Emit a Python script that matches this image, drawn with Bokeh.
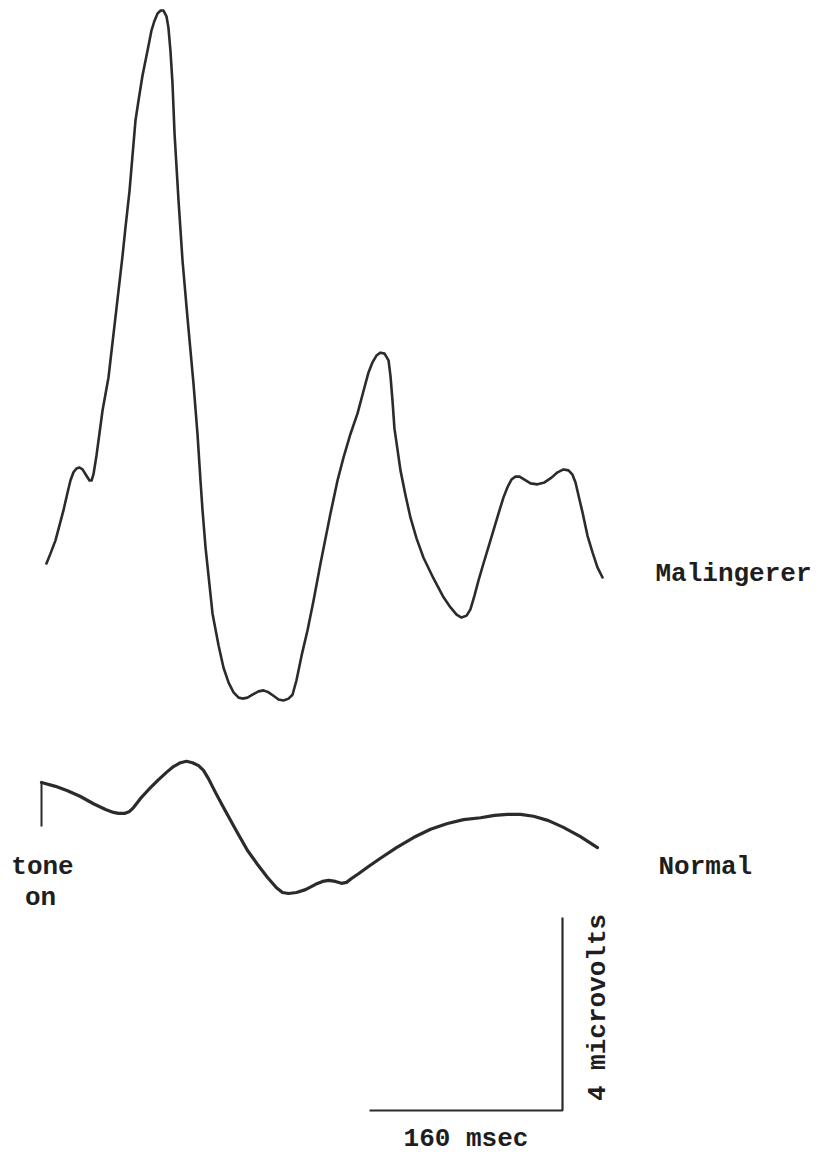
import math
from bokeh.plotting import figure
from bokeh.models import Label, Range1d
from bokeh.embed import file_html
from bokeh.resources import INLINE

# ---- data (time in ms after tone onset, amplitude in microvolts) ----
malingerer_ms = [4.1, 7.5, 11.6, 14.9, 18.2, 21.6, 24.0, 26.5, 29.0, 31.5, 34.0, 37.3, 39.8, 41.5,
                 43.1, 45.6, 50.6, 55.5, 61.3, 67.2, 69.6, 73.0, 77.9, 80.4, 83.7, 86.2, 88.7,
                 91.2, 93.7, 96.2, 98.8, 101.1, 103.6, 105.2, 106.9, 108.6, 110.3, 113.6, 116.9,
                 121.0, 126.0, 129.3, 131.8, 133.5, 136.0, 141.8, 146.8, 150.9, 155.1, 159.2,
                 163.4, 166.6, 170.8, 174.9, 179.9, 184.0, 188.2, 192.3, 196.5, 200.6, 204.8,
                 208.1, 211.4, 215.6, 220.5, 225.5, 231.3, 239.6, 245.4, 250.4, 256.2, 262.0,
                 267.0, 271.1, 274.4, 277.7, 281.0, 284.4, 287.7, 289.3, 291.0, 292.6, 297.6,
                 301.8, 305.9, 310.9, 316.7, 325.0, 333.3, 339.1, 344.1, 348.2, 352.4, 355.6,
                 359.0, 362.3, 366.4, 372.2, 378.9, 383.0, 386.3, 389.6, 392.9, 396.3, 400.4,
                 405.4, 411.2, 417.0, 422.8, 427.8, 432.8, 436.9, 440.2, 442.7, 445.2, 448.5,
                 452.6, 456.8, 460.9, 465.1]
malingerer_uv = [0.00, 0.21, 0.48, 0.79, 1.10, 1.47, 1.72, 1.89, 1.97, 1.99, 1.95, 1.82, 1.72, 1.72,
                 1.85, 2.24, 3.17, 3.85, 5.10, 6.38, 6.96, 7.73, 9.18, 9.59, 10.11, 10.42, 10.73,
                 11.05, 11.25, 11.40, 11.46, 11.46, 11.34, 11.11, 10.63, 9.95, 8.91, 7.52, 6.28,
                 5.10, 3.73, 2.69, 1.72, 1.10, 0.33, -1.04, -1.70, -2.16, -2.47, -2.67,
                 -2.78, -2.80, -2.78, -2.72, -2.65, -2.63, -2.67, -2.74, -2.82, -2.84, -2.80,
                 -2.72, -2.42, -1.91, -1.39, -0.77, 0.00, 1.04, 1.72, 2.20, 2.69, 3.11,
                 3.58, 3.96, 4.17, 4.31, 4.37, 4.35, 4.21, 3.89, 3.37, 2.80, 1.93,
                 1.41, 0.95, 0.52, 0.12, -0.31, -0.70, -0.91, -1.06, -1.12, -1.08, -0.95,
                 -0.66, -0.35, 0.00, 0.48, 1.04, 1.37, 1.58, 1.74, 1.80, 1.80, 1.74,
                 1.66, 1.64, 1.68, 1.78, 1.89, 1.95, 1.93, 1.84, 1.68, 1.41, 1.06,
                 0.58, 0.23, -0.08, -0.29]

normal_ms = [0.0, 11.6, 21.6, 32.3, 43.1, 53.1, 59.7, 63.8, 68.8, 73.0, 76.3, 82.1, 88.7, 96.2,
             103.6, 109.4, 115.2, 120.2, 125.2, 130.2, 134.3, 138.4, 144.3, 150.9, 160.8, 170.8,
             179.1, 187.4, 194.8, 199.8, 204.8, 211.4, 218.9, 227.2, 233.0, 238.0, 243.7, 248.7,
             252.9, 257.0, 262.8, 271.1, 281.0, 294.3, 308.4, 322.5, 336.6, 349.9, 364.0, 375.6,
             386.3, 397.1, 407.9, 420.3, 432.7, 446.8, 460.9]
normal_uv = [0.00, -0.08, -0.17, -0.29, -0.44, -0.56, -0.62, -0.64, -0.64, -0.60, -0.52, -0.33,
             -0.15, 0.04, 0.21, 0.33, 0.41, 0.44, 0.41, 0.35, 0.25, 0.08, -0.21, -0.52, -0.97,
             -1.41, -1.70, -1.97, -2.18, -2.28, -2.30, -2.28, -2.22, -2.11, -2.05, -2.03, -2.05,
             -2.09, -2.07, -1.99, -1.89, -1.74, -1.57, -1.35, -1.14, -0.97, -0.85, -0.77, -0.73,
             -0.68, -0.66, -0.66, -0.70, -0.79, -0.93, -1.12, -1.35]

trace_names = ["Malingerer", "Normal"]
onset_text = ["tone", "on"]
scale_ms = 160
scale_uv = 4
scale_ms_label = "160 msec"
scale_uv_label = "4 microvolts"

# ---- layout ----
W, H = 822, 1155
PX_PER_MS = 193 / 160.0
PX_PER_UV = 193 / 4.0


def fx(page_x):
    return (page_x - 41) / PX_PER_MS


def fy(page_y):
    return -page_y / PX_PER_UV


mal_offset = fy(563)
norm_offset = fy(782)

p = figure(width=W, height=H, output_backend="svg", toolbar_location=None,
           min_border=0, x_range=Range1d(fx(0), fx(W)), y_range=Range1d(fy(H), fy(0)))
p.axis.visible = False
p.grid.visible = False
p.outline_line_color = None
p.background_fill_color = "white"
p.border_fill_color = "white"

ink = "#2b2b2b"
p.line(malingerer_ms, [v + mal_offset for v in malingerer_uv], line_color=ink, line_width=2.6,
       line_join="round", line_cap="round")
p.line(normal_ms, [v + norm_offset for v in normal_uv], line_color=ink, line_width=3.2,
       line_join="round", line_cap="round")

# tone-on marker
p.line([0, 0], [norm_offset, fy(826)], line_color=ink, line_width=2)

# calibration bars
corner_x = fx(562)
corner_y = fy(1110)
p.line([corner_x - scale_ms, corner_x, corner_x],
       [corner_y, corner_y, corner_y + scale_uv], line_color=ink, line_width=2.2)

font = "Liberation Mono"
fs = "26px"
col = "#1e1e1e"


def add_label(text, x, y, align="left", baseline="alphabetic", angle=0.0):
    p.add_layout(Label(x=x, y=y, text=text, text_font=font, text_font_size=fs,
                       text_color=col, text_align=align, text_baseline=baseline,
                       angle=angle, text_font_style="bold"))


add_label(trace_names[0], fx(655), fy(573))
add_label(trace_names[1], fx(658), fy(866))
add_label(onset_text[0], fx(42), fy(866), align="center")
add_label(onset_text[1], fx(40), fy(897), align="center")
add_label(scale_ms_label, corner_x - scale_ms / 2, fy(1138), align="center")
add_label(scale_uv_label, fx(597), fy(1007), align="center", angle=math.pi / 2)

open("out.html", "w").write(file_html(p, INLINE))
